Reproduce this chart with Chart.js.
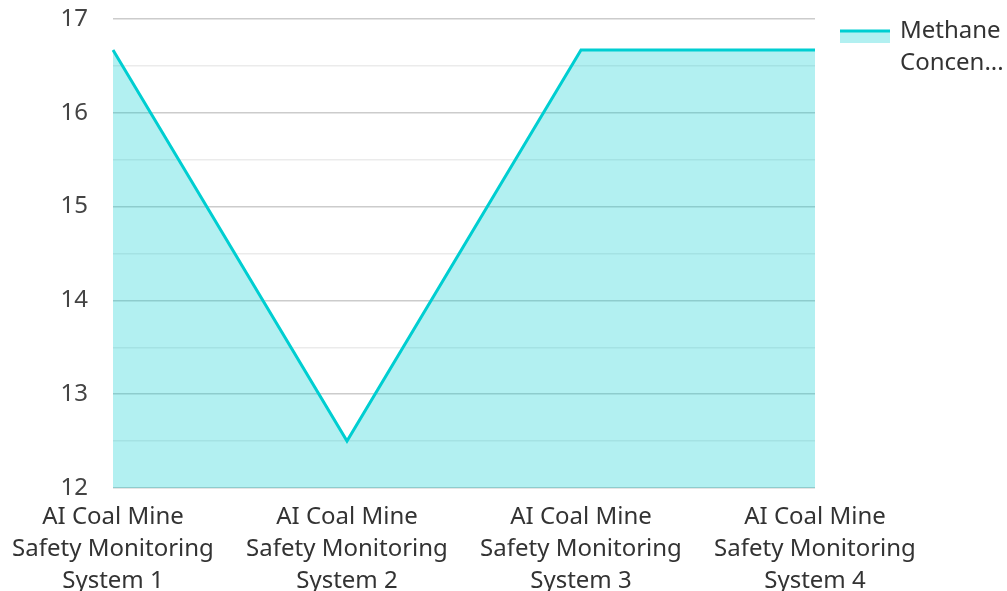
<!DOCTYPE html>
<html>
<head>
<meta charset="utf-8">
<script src="https://cdn.jsdelivr.net/npm/chart.js@4/dist/chart.umd.min.js"></script>
<style>
  html, body { margin: 0; padding: 0; background: #fff; }
  #wrap { width: 1007px; height: 591px; position: relative; }
</style>
</head>
<body>
<div id="wrap"><canvas id="chart"></canvas></div>
<script>
// chart data
const categories = [
    ['AI Coal Mine', 'Safety Monitoring', 'System 1'],
    ['AI Coal Mine', 'Safety Monitoring', 'System 2'],
    ['AI Coal Mine', 'Safety Monitoring', 'System 3'],
    ['AI Coal Mine', 'Safety Monitoring', 'System 4']
];
const methaneValues = [16.67, 12.5, 16.67, 16.67];
const seriesName = 'Methane Concentration';
const legendLines = ['Methane', 'Concen...'];
const yMin = 12;
const yMax = 17;

const lineColor = 'rgb(0, 206, 209)';
const fillColor = 'rgba(0, 206, 209, 0.3)';
const fontFamily = '"Noto Sans", sans-serif';

// legend drawn by hand so the label can wrap like the original
const sideLegend = {
    id: 'sideLegend',
    afterDraw(chart) {
        const ctx = chart.ctx;
        const x0 = 840, x1 = 890, y = 31;
        ctx.save();
        ctx.fillStyle = fillColor;
        ctx.fillRect(x0, y, x1 - x0, 12);
        ctx.strokeStyle = lineColor;
        ctx.lineWidth = 3;
        ctx.beginPath();
        ctx.moveTo(x0, y);
        ctx.lineTo(x1, y);
        ctx.stroke();
        ctx.fillStyle = '#333';
        ctx.font = '24px ' + fontFamily;
        ctx.textBaseline = 'middle';
        legendLines.forEach((line, i) => {
            ctx.fillText(line, 900, y + i * 32);
        });
        ctx.restore();
    }
};

const ctx = document.getElementById('chart').getContext('2d');
const chart = new Chart(ctx, {
    type: 'line',
    data: {
        labels: categories,
        datasets: [{
            label: seriesName,
            data: methaneValues,
            borderColor: lineColor,
            backgroundColor: fillColor,
            borderWidth: 3,
            fill: 'start',
            tension: 0,
            pointRadius: 0,
            pointHoverRadius: 0
        }]
    },
    options: {
        responsive: true,
        maintainAspectRatio: false,
        animation: false,
        layout: {
            padding: { top: 19, right: 192, bottom: -11, left: 0 }
        },
        plugins: {
            legend: { display: false },
            tooltip: { enabled: false }
        },
        scales: {
            x: {
                grid: { display: false },
                border: { display: false },
                ticks: {
                    color: '#333',
                    maxRotation: 0,
                    autoSkip: false,
                    padding: 5,
                    font: { family: fontFamily, size: 24, lineHeight: 1.333 }
                }
            },
            y: {
                min: yMin,
                max: yMax,
                border: { display: false },
                afterFit: function(scale) {
                    scale.width = 113;
                },
                grid: {
                    drawTicks: true,
                    tickLength: 25,
                    tickColor: 'rgba(0,0,0,0)',
                    lineWidth: 1.5,
                    color: function(c) {
                        return c.tick && Number.isInteger(c.tick.value) ? '#cccccc' : '#ebebeb';
                    }
                },
                ticks: {
                    stepSize: 0.5,
                    color: '#444',
                    padding: 0,
                    font: { family: fontFamily, size: 24 },
                    callback: function(value) {
                        return Number.isInteger(value) ? value : '';
                    }
                }
            }
        }
    },
    plugins: [sideLegend]
});
</script>
</body>
</html>
